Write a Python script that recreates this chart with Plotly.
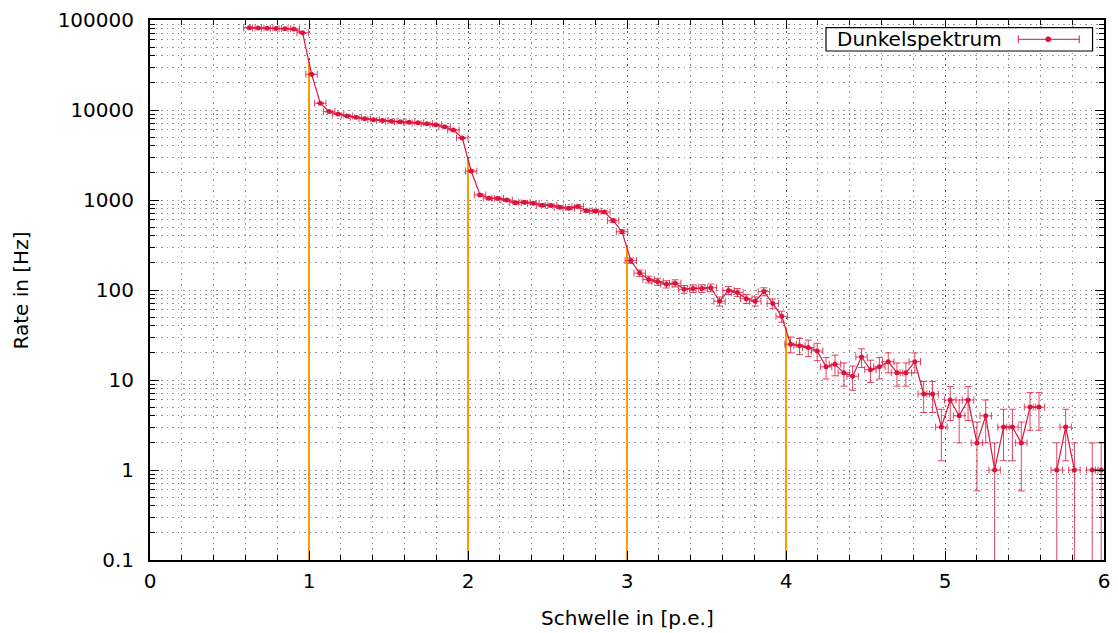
import numpy as np
import plotly.graph_objects as go

# ---------------- data ----------------
threshold_pe = [
    0.625, 0.681, 0.737, 0.792, 0.848, 0.904, 0.960, 1.016, 1.071, 1.127,
    1.183, 1.239, 1.295, 1.350, 1.406, 1.462, 1.518, 1.574, 1.629, 1.685,
    1.741, 1.797, 1.853, 1.908, 1.964, 2.020, 2.076, 2.132, 2.187, 2.243,
    2.299, 2.355, 2.411, 2.466, 2.522, 2.578, 2.634, 2.690, 2.745, 2.801,
    2.857, 2.913, 2.969, 3.024, 3.080, 3.136, 3.192, 3.248, 3.303, 3.359,
    3.415, 3.471, 3.527, 3.582, 3.638, 3.694, 3.750, 3.806, 3.861, 3.917,
    3.973, 4.029, 4.085, 4.140, 4.196, 4.252, 4.308, 4.364, 4.419, 4.475,
    4.531, 4.587, 4.643, 4.698, 4.754, 4.810, 4.866, 4.922, 4.977, 5.033,
    5.089, 5.145, 5.201, 5.256, 5.312, 5.368, 5.424, 5.480, 5.535, 5.591,
    5.647, 5.703, 5.759, 5.814, 5.870, 5.926, 5.982,
]
rate_hz = [
    82000, 81500, 81000, 80500, 80000, 79500, 72000, 25000, 11900, 9600,
    9000, 8600, 8300, 8000, 7800, 7650, 7500, 7400, 7300, 7200,
    7050, 6850, 6500, 6000, 4900, 2100, 1140, 1045, 1040, 1000,
    935, 945, 920, 875, 870, 830, 810, 845, 760, 755,
    735, 590, 444, 212, 154, 131, 124, 116, 119, 102,
    104, 104, 106, 75, 99, 94, 80, 75, 96, 71,
    51, 25, 24, 23, 21, 14, 15, 12, 11, 18,
    13, 14, 16, 12, 12, 16, 7, 7, 3, 6,
    4, 6, 2, 4, 1, 3, 3, 2, 5, 5,
    0, 1, 3, 1, 0, 1, 1,
]
threshold_err_pe = 0.036          # half width of the horizontal error bars

# orange marker lines at integer photo-electron thresholds
pe_marks = [1, 2, 3, 4]
pe_mark_rate = [35000, 2850, 310, 39]

x_tick_vals = [0, 1, 2, 3, 4, 5, 6]
y_tick_vals = [0.1, 1, 10, 100, 1000, 10000, 100000]
y_tick_text = ["0.1", "1", "10", "100", "1000", "10000", "100000"]

# ---------------- styling ----------------
RED = "#dc143c"
RED_ERR = "rgba(220,20,60,0.8)"
ORANGE = "#ff9a00"
GRID = "rgba(0,0,0,0.42)"
GRID_DASH = "1.5px,4px"
FONT = "DejaVu Sans"
FS = 20

rate = np.array(rate_hz, dtype=float)
rate_plot = np.where(rate > 0, rate, np.nan)
rate_err = np.sqrt(rate)          # Poisson errors

fig = go.Figure()

ox, oy = [], []
for xv, top in zip(pe_marks, pe_mark_rate):
    ox += [xv, xv, None]
    oy += [0.1, top, None]
fig.add_trace(go.Scatter(
    x=ox, y=oy, mode="lines", line=dict(color=ORANGE, width=2),
    showlegend=False, hoverinfo="skip"))

fig.add_trace(go.Scatter(
    x=threshold_pe, y=rate_plot, mode="lines+markers", name="Dunkelspektrum",
    line=dict(color=RED, width=1.2),
    marker=dict(color=RED, size=5),
    error_y=dict(type="data", array=rate_err, visible=True,
                 color=RED_ERR, thickness=1, width=3.5),
    error_x=dict(type="constant", value=threshold_err_pe, visible=True,
                 color=RED_ERR, thickness=1, width=3.5),
    showlegend=False))

y_minor = [d * 10.0 ** e for e in range(-1, 5) for d in range(2, 10)]

fig.update_xaxes(
    range=[0, 6], tickmode="array", tickvals=x_tick_vals, automargin=False,
    ticks="inside", ticklen=9, tickwidth=1.2, tickcolor="black",
    showline=True, linecolor="black", linewidth=2, mirror="allticks",
    showgrid=True, gridcolor=GRID, gridwidth=1, griddash=GRID_DASH,
    zeroline=False, tickfont=dict(family=FONT, size=FS, color="black"),
    ticklabelstandoff=2,
    minor=dict(dtick=0.2, ticks="inside", ticklen=5, tickwidth=1,
               tickcolor="black", showgrid=True, gridcolor=GRID,
               gridwidth=1, griddash=GRID_DASH),
)
fig.update_yaxes(
    type="log", range=[-1, 5], tickmode="array", tickvals=y_tick_vals,
    ticktext=y_tick_text, automargin=False,
    ticks="inside", ticklen=9, tickwidth=1.2, tickcolor="black",
    showline=True, linecolor="black", linewidth=2, mirror="allticks",
    showgrid=True, gridcolor=GRID, gridwidth=1, griddash=GRID_DASH,
    zeroline=False, tickfont=dict(family=FONT, size=FS, color="black"),
    ticklabelstandoff=10,
    minor=dict(tickmode="array", tickvals=y_minor, ticks="inside",
               ticklen=5, tickwidth=1, tickcolor="black", showgrid=True,
               gridcolor=GRID, gridwidth=1, griddash=GRID_DASH),
)

# legend drawn like gnuplot's key (text left, sample right)
lx0, lx1, ly0, ly1 = 0.7086, 0.988, 0.9426, 0.9857
sy = 0.9643
sx0, sx1, smx = 0.9102, 0.9741, 0.9416
shapes = [
    dict(type="rect", xref="paper", yref="paper", x0=lx0, x1=lx1, y0=ly0, y1=ly1,
         line=dict(color="black", width=1.2), fillcolor="white", layer="above"),
    dict(type="line", xref="paper", yref="paper", x0=sx0, x1=sx1, y0=sy, y1=sy,
         line=dict(color=RED_ERR, width=1.2), layer="above"),
    dict(type="line", xref="paper", yref="paper", x0=sx0, x1=sx0, y0=sy - 0.0074, y1=sy + 0.0074,
         line=dict(color=RED_ERR, width=1.2), layer="above"),
    dict(type="line", xref="paper", yref="paper", x0=sx1, x1=sx1, y0=sy - 0.0074, y1=sy + 0.0074,
         line=dict(color=RED_ERR, width=1.2), layer="above"),
    dict(type="circle", xref="paper", yref="paper", x0=smx - 0.0026, x1=smx + 0.0026,
         y0=sy - 0.0046, y1=sy + 0.0046, line=dict(color=RED, width=1),
         fillcolor=RED, layer="above"),
]

annotations = [
    dict(text="Dunkelspektrum", xref="paper", yref="paper", x=0.8957, y=0.9639,
         xanchor="right", yanchor="middle", showarrow=False,
         font=dict(family=FONT, size=FS, color="black")),
    dict(text="Rate in [Hz]", xref="paper", yref="paper", x=-0.1347, y=0.5,
         xanchor="center", yanchor="middle", textangle=-90, showarrow=False,
         font=dict(family=FONT, size=FS, color="black")),
    dict(text="Schwelle in [p.e.]", xref="paper", yref="paper", x=0.5, y=-0.1074,
         xanchor="center", yanchor="middle", showarrow=False,
         font=dict(family=FONT, size=FS, color="black")),
]

fig.update_layout(
    width=1118, height=633,
    margin=dict(l=150, r=14, t=20, b=73, autoexpand=False),
    plot_bgcolor="white", paper_bgcolor="white",
    showlegend=False, shapes=shapes, annotations=annotations,
    font=dict(family=FONT, size=FS, color="black"),
)

fig.write_html("out.html")
